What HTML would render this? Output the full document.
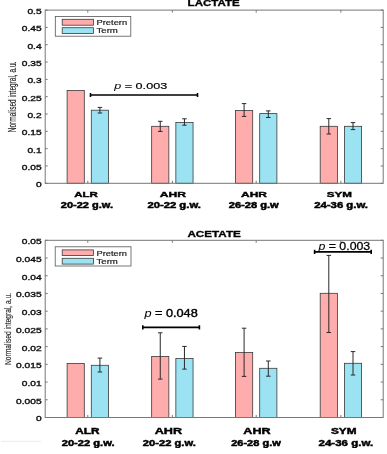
<!DOCTYPE html>
<html><head><meta charset="utf-8"><style>
html,body{margin:0;padding:0;background:#fff;}
body{width:387px;height:454px;overflow:hidden;}
svg{display:block;font-family:"Liberation Sans",sans-serif;}
</style></head><body>
<svg width="387" height="454" viewBox="0 0 387 454">
<defs><filter id="bl" x="0" y="0" width="100%" height="100%"><feGaussianBlur stdDeviation="0.45"/></filter></defs><g filter="url(#bl)">
<rect x="1" y="440.8" width="40" height="1" fill="#ececec"/>
<rect x="67.10" y="90.50" width="17.20" height="92.80" fill="#FFACAC" stroke="#3a3a3a" stroke-width="0.8"/>
<rect x="91.30" y="110.20" width="17.20" height="73.10" fill="#9BE3F3" stroke="#3a3a3a" stroke-width="0.8"/>
<path d="M99.90,107.40V113.00M97.65,107.40H102.15M97.65,113.00H102.15" stroke="#2a2a2a" stroke-width="1.0" fill="none"/>
<rect x="151.65" y="126.30" width="17.20" height="57.00" fill="#FFACAC" stroke="#3a3a3a" stroke-width="0.8"/>
<path d="M160.25,121.30V131.40M158.00,121.30H162.50M158.00,131.40H162.50" stroke="#2a2a2a" stroke-width="1.0" fill="none"/>
<rect x="175.85" y="122.40" width="17.20" height="60.90" fill="#9BE3F3" stroke="#3a3a3a" stroke-width="0.8"/>
<path d="M184.45,118.80V125.20M182.20,118.80H186.70M182.20,125.20H186.70" stroke="#2a2a2a" stroke-width="1.0" fill="none"/>
<rect x="235.50" y="110.50" width="17.20" height="72.80" fill="#FFACAC" stroke="#3a3a3a" stroke-width="0.8"/>
<path d="M244.10,103.60V116.40M241.85,103.60H246.35M241.85,116.40H246.35" stroke="#2a2a2a" stroke-width="1.0" fill="none"/>
<rect x="259.70" y="113.60" width="17.20" height="69.70" fill="#9BE3F3" stroke="#3a3a3a" stroke-width="0.8"/>
<path d="M268.30,110.90V117.50M266.05,110.90H270.55M266.05,117.50H270.55" stroke="#2a2a2a" stroke-width="1.0" fill="none"/>
<rect x="320.20" y="126.30" width="17.20" height="57.00" fill="#FFACAC" stroke="#3a3a3a" stroke-width="0.8"/>
<path d="M328.80,118.60V134.00M326.55,118.60H331.05M326.55,134.00H331.05" stroke="#2a2a2a" stroke-width="1.0" fill="none"/>
<rect x="344.40" y="126.30" width="17.20" height="57.00" fill="#9BE3F3" stroke="#3a3a3a" stroke-width="0.8"/>
<path d="M353.00,122.60V129.60M350.75,122.60H355.25M350.75,129.60H355.25" stroke="#2a2a2a" stroke-width="1.0" fill="none"/>
<rect x="45.20" y="10.10" width="338.00" height="173.20" fill="none" stroke="#777" stroke-width="1"/>
<path d="M45.20,183.30h2.5M383.20,183.30h-2.5M45.20,165.98h2.5M383.20,165.98h-2.5M45.20,148.66h2.5M383.20,148.66h-2.5M45.20,131.34h2.5M383.20,131.34h-2.5M45.20,114.02h2.5M383.20,114.02h-2.5M45.20,96.70h2.5M383.20,96.70h-2.5M45.20,79.38h2.5M383.20,79.38h-2.5M45.20,62.06h2.5M383.20,62.06h-2.5M45.20,44.74h2.5M383.20,44.74h-2.5M45.20,27.42h2.5M383.20,27.42h-2.5M45.20,10.10h2.5M383.20,10.10h-2.5M87.80,10.10v2.5M87.80,183.30v-2.5M172.35,10.10v2.5M172.35,183.30v-2.5M256.20,10.10v2.5M256.20,183.30v-2.5M340.90,10.10v2.5M340.90,183.30v-2.5" stroke="#777" stroke-width="1" fill="none"/>
<text transform="translate(41.60,187.20) scale(1,0.660)" font-size="10.2" text-anchor="end" fill="#111" stroke="#111" stroke-width="0.5">0</text>
<text transform="translate(41.60,169.88) scale(1,0.660)" font-size="10.2" text-anchor="end" fill="#111" stroke="#111" stroke-width="0.5">0.05</text>
<text transform="translate(41.60,152.56) scale(1,0.660)" font-size="10.2" text-anchor="end" fill="#111" stroke="#111" stroke-width="0.5">0.1</text>
<text transform="translate(41.60,135.24) scale(1,0.660)" font-size="10.2" text-anchor="end" fill="#111" stroke="#111" stroke-width="0.5">0.15</text>
<text transform="translate(41.60,117.92) scale(1,0.660)" font-size="10.2" text-anchor="end" fill="#111" stroke="#111" stroke-width="0.5">0.2</text>
<text transform="translate(41.60,100.60) scale(1,0.660)" font-size="10.2" text-anchor="end" fill="#111" stroke="#111" stroke-width="0.5">0.25</text>
<text transform="translate(41.60,83.28) scale(1,0.660)" font-size="10.2" text-anchor="end" fill="#111" stroke="#111" stroke-width="0.5">0.3</text>
<text transform="translate(41.60,65.96) scale(1,0.660)" font-size="10.2" text-anchor="end" fill="#111" stroke="#111" stroke-width="0.5">0.35</text>
<text transform="translate(41.60,48.64) scale(1,0.660)" font-size="10.2" text-anchor="end" fill="#111" stroke="#111" stroke-width="0.5">0.4</text>
<text transform="translate(41.60,31.32) scale(1,0.660)" font-size="10.2" text-anchor="end" fill="#111" stroke="#111" stroke-width="0.5">0.45</text>
<text transform="translate(41.60,14.00) scale(1,0.660)" font-size="10.2" text-anchor="end" fill="#111" stroke="#111" stroke-width="0.5">0.5</text>
<rect x="55.3" y="16.5" width="75.50" height="19.70" fill="#fff" stroke="#555" stroke-width="0.8"/>
<rect x="62.2" y="19.3" width="31.20" height="5.90" fill="#FFACAC" stroke="#3a3a3a" stroke-width="0.8"/>
<rect x="62.2" y="27.7" width="31.20" height="5.80" fill="#9BE3F3" stroke="#3a3a3a" stroke-width="0.8"/>
<text transform="translate(96.50,25.20) scale(1,0.728)" font-size="9.36" font-weight="normal" font-style="normal" fill="#222" stroke="#222" stroke-width="0.25">Pretern</text>
<text transform="translate(96.50,33.00) scale(1,0.707)" font-size="9.64" font-weight="normal" font-style="normal" fill="#222" stroke="#222" stroke-width="0.25">Term</text>
<text transform="translate(187.60,6.30) scale(1,0.719)" font-size="11.53" font-weight="bold" font-style="normal" fill="#000" stroke="#000" stroke-width="0.4">LACTATE</text>
<text transform="translate(74.30,197.30) scale(1,0.680)" font-size="11.50" font-weight="bold" font-style="normal" fill="#000" stroke="#000" stroke-width="0.6">ALR</text>
<text transform="translate(159.80,197.30) scale(1,0.646)" font-size="12.12" font-weight="bold" font-style="normal" fill="#000" stroke="#000" stroke-width="0.6">AHR</text>
<text transform="translate(241.00,197.30) scale(1,0.653)" font-size="11.98" font-weight="bold" font-style="normal" fill="#000" stroke="#000" stroke-width="0.6">AHR</text>
<text transform="translate(326.80,197.30) scale(1,0.664)" font-size="11.61" font-weight="bold" font-style="normal" fill="#000" stroke="#000" stroke-width="0.6">SYM</text>
<text transform="translate(60.80,207.80) scale(1,0.752)" font-size="11.01" font-weight="bold" font-style="normal" fill="#000" stroke="#000" stroke-width="0.6">20-22 g.w.</text>
<text transform="translate(147.40,207.80) scale(1,0.734)" font-size="11.29" font-weight="bold" font-style="normal" fill="#000" stroke="#000" stroke-width="0.6">20-22 g.w.</text>
<text transform="translate(228.70,207.80) scale(1,0.746)" font-size="11.11" font-weight="bold" font-style="normal" fill="#000" stroke="#000" stroke-width="0.6">26-28 g.w</text>
<text transform="translate(314.20,207.80) scale(1,0.730)" font-size="11.35" font-weight="bold" font-style="normal" fill="#000" stroke="#000" stroke-width="0.6">24-36 g.w.</text>
<text transform="translate(16.00,132.20) rotate(-90) scale(1,1.533)" font-size="6.52" fill="#222" stroke="#222" stroke-width="0.1">Normalised integral, a.u.</text>
<path d="M90.50,95.00H197.50M90.50,92.90V97.10M197.50,92.90V97.10" stroke="#000" stroke-width="1.6" fill="none"/>
<text transform="translate(114.18,88.60) scale(1,0.769)" font-size="12.64" fill="#000" stroke="#000" stroke-width="0.25"><tspan font-style="italic" stroke-width="0.05">p</tspan>&#160;=&#160;0.003</text>
<rect x="67.10" y="363.50" width="17.20" height="54.00" fill="#FFACAC" stroke="#3a3a3a" stroke-width="0.8"/>
<rect x="91.30" y="365.30" width="17.20" height="52.20" fill="#9BE3F3" stroke="#3a3a3a" stroke-width="0.8"/>
<path d="M99.90,358.10V372.00M97.65,358.10H102.15M97.65,372.00H102.15" stroke="#2a2a2a" stroke-width="1.0" fill="none"/>
<rect x="151.65" y="356.50" width="17.20" height="61.00" fill="#FFACAC" stroke="#3a3a3a" stroke-width="0.8"/>
<path d="M160.25,332.80V379.10M158.00,332.80H162.50M158.00,379.10H162.50" stroke="#2a2a2a" stroke-width="1.0" fill="none"/>
<rect x="175.85" y="358.40" width="17.20" height="59.10" fill="#9BE3F3" stroke="#3a3a3a" stroke-width="0.8"/>
<path d="M184.45,346.40V369.10M182.20,346.40H186.70M182.20,369.10H186.70" stroke="#2a2a2a" stroke-width="1.0" fill="none"/>
<rect x="235.50" y="352.40" width="17.20" height="65.10" fill="#FFACAC" stroke="#3a3a3a" stroke-width="0.8"/>
<path d="M244.10,328.20V376.40M241.85,328.20H246.35M241.85,376.40H246.35" stroke="#2a2a2a" stroke-width="1.0" fill="none"/>
<rect x="259.70" y="368.30" width="17.20" height="49.20" fill="#9BE3F3" stroke="#3a3a3a" stroke-width="0.8"/>
<path d="M268.30,361.00V376.20M266.05,361.00H270.55M266.05,376.20H270.55" stroke="#2a2a2a" stroke-width="1.0" fill="none"/>
<rect x="320.20" y="293.30" width="17.20" height="124.20" fill="#FFACAC" stroke="#3a3a3a" stroke-width="0.8"/>
<path d="M328.80,255.40V332.50M326.55,255.40H331.05M326.55,332.50H331.05" stroke="#2a2a2a" stroke-width="1.0" fill="none"/>
<rect x="344.40" y="363.30" width="17.20" height="54.20" fill="#9BE3F3" stroke="#3a3a3a" stroke-width="0.8"/>
<path d="M353.00,351.60V375.00M350.75,351.60H355.25M350.75,375.00H355.25" stroke="#2a2a2a" stroke-width="1.0" fill="none"/>
<rect x="45.20" y="240.30" width="338.00" height="177.20" fill="none" stroke="#777" stroke-width="1"/>
<path d="M45.20,417.50h2.5M383.20,417.50h-2.5M45.20,399.78h2.5M383.20,399.78h-2.5M45.20,382.06h2.5M383.20,382.06h-2.5M45.20,364.34h2.5M383.20,364.34h-2.5M45.20,346.62h2.5M383.20,346.62h-2.5M45.20,328.90h2.5M383.20,328.90h-2.5M45.20,311.18h2.5M383.20,311.18h-2.5M45.20,293.46h2.5M383.20,293.46h-2.5M45.20,275.74h2.5M383.20,275.74h-2.5M45.20,258.02h2.5M383.20,258.02h-2.5M45.20,240.30h2.5M383.20,240.30h-2.5M87.80,240.30v2.5M87.80,417.50v-2.5M172.35,240.30v2.5M172.35,417.50v-2.5M256.20,240.30v2.5M256.20,417.50v-2.5M340.90,240.30v2.5M340.90,417.50v-2.5" stroke="#777" stroke-width="1" fill="none"/>
<text transform="translate(41.60,421.40) scale(1,0.660)" font-size="10.2" text-anchor="end" fill="#111" stroke="#111" stroke-width="0.5">0</text>
<text transform="translate(41.60,403.68) scale(1,0.660)" font-size="10.2" text-anchor="end" fill="#111" stroke="#111" stroke-width="0.5">0.005</text>
<text transform="translate(41.60,385.96) scale(1,0.660)" font-size="10.2" text-anchor="end" fill="#111" stroke="#111" stroke-width="0.5">0.01</text>
<text transform="translate(41.60,368.24) scale(1,0.660)" font-size="10.2" text-anchor="end" fill="#111" stroke="#111" stroke-width="0.5">0.015</text>
<text transform="translate(41.60,350.52) scale(1,0.660)" font-size="10.2" text-anchor="end" fill="#111" stroke="#111" stroke-width="0.5">0.02</text>
<text transform="translate(41.60,332.80) scale(1,0.660)" font-size="10.2" text-anchor="end" fill="#111" stroke="#111" stroke-width="0.5">0.025</text>
<text transform="translate(41.60,315.08) scale(1,0.660)" font-size="10.2" text-anchor="end" fill="#111" stroke="#111" stroke-width="0.5">0.03</text>
<text transform="translate(41.60,297.36) scale(1,0.660)" font-size="10.2" text-anchor="end" fill="#111" stroke="#111" stroke-width="0.5">0.035</text>
<text transform="translate(41.60,279.64) scale(1,0.660)" font-size="10.2" text-anchor="end" fill="#111" stroke="#111" stroke-width="0.5">0.04</text>
<text transform="translate(41.60,261.92) scale(1,0.660)" font-size="10.2" text-anchor="end" fill="#111" stroke="#111" stroke-width="0.5">0.045</text>
<text transform="translate(41.60,244.20) scale(1,0.660)" font-size="10.2" text-anchor="end" fill="#111" stroke="#111" stroke-width="0.5">0.05</text>
<rect x="55.2" y="246.8" width="75.80" height="19.20" fill="#fff" stroke="#555" stroke-width="0.8"/>
<rect x="62.2" y="249.9" width="31.20" height="5.70" fill="#FFACAC" stroke="#3a3a3a" stroke-width="0.8"/>
<rect x="62.2" y="258.3" width="31.20" height="5.80" fill="#9BE3F3" stroke="#3a3a3a" stroke-width="0.8"/>
<text transform="translate(96.50,255.60) scale(1,0.782)" font-size="9.27" font-weight="normal" font-style="normal" fill="#222" stroke="#222" stroke-width="0.25">Pretern</text>
<text transform="translate(96.50,264.00) scale(1,0.752)" font-size="9.64" font-weight="normal" font-style="normal" fill="#222" stroke="#222" stroke-width="0.25">Term</text>
<text transform="translate(187.40,237.40) scale(1,0.708)" font-size="11.71" font-weight="bold" font-style="normal" fill="#000" stroke="#000" stroke-width="0.4">ACETATE</text>
<text transform="translate(75.20,434.30) scale(1,0.725)" font-size="11.80" font-weight="bold" font-style="normal" fill="#000" stroke="#000" stroke-width="0.6">ALR</text>
<text transform="translate(154.70,434.30) scale(1,0.675)" font-size="12.67" font-weight="bold" font-style="normal" fill="#000" stroke="#000" stroke-width="0.6">AHR</text>
<text transform="translate(243.30,434.30) scale(1,0.677)" font-size="12.63" font-weight="bold" font-style="normal" fill="#000" stroke="#000" stroke-width="0.6">AHR</text>
<text transform="translate(330.90,434.30) scale(1,0.714)" font-size="11.80" font-weight="bold" font-style="normal" fill="#000" stroke="#000" stroke-width="0.6">SYM</text>
<text transform="translate(61.70,445.50) scale(1,0.768)" font-size="11.16" font-weight="bold" font-style="normal" fill="#000" stroke="#000" stroke-width="0.6">20-22 g.w.</text>
<text transform="translate(142.80,445.50) scale(1,0.767)" font-size="11.18" font-weight="bold" font-style="normal" fill="#000" stroke="#000" stroke-width="0.6">20-22 g.w.</text>
<text transform="translate(231.20,445.50) scale(1,0.778)" font-size="11.02" font-weight="bold" font-style="normal" fill="#000" stroke="#000" stroke-width="0.6">26-28 g.w</text>
<text transform="translate(318.50,445.50) scale(1,0.743)" font-size="11.54" font-weight="bold" font-style="normal" fill="#000" stroke="#000" stroke-width="0.6">24-36 g.w.</text>
<text transform="translate(10.60,365.10) rotate(-90) scale(1,1.435)" font-size="6.68" fill="#222" stroke="#222" stroke-width="0.1">Normalised integral, a.u.</text>
<path d="M142.80,327.40H199.40M142.80,325.30V329.50M199.40,325.30V329.50" stroke="#000" stroke-width="1.6" fill="none"/>
<text transform="translate(144.38,317.00) scale(1,0.864)" font-size="12.73" fill="#000" stroke="#000" stroke-width="0.45"><tspan font-style="italic" stroke-width="0.05">p</tspan>&#160;=&#160;0.048</text>
<path d="M314.60,251.90H371.20M314.60,249.80V254.00M371.20,249.80V254.00" stroke="#000" stroke-width="1.6" fill="none"/>
<text transform="translate(318.47,250.10) scale(1,0.834)" font-size="12.33" fill="#000" stroke="#000" stroke-width="0.3"><tspan font-style="italic" stroke-width="0.05">p</tspan>&#160;=&#160;0.003</text>
</g>
</svg>
</body></html>
